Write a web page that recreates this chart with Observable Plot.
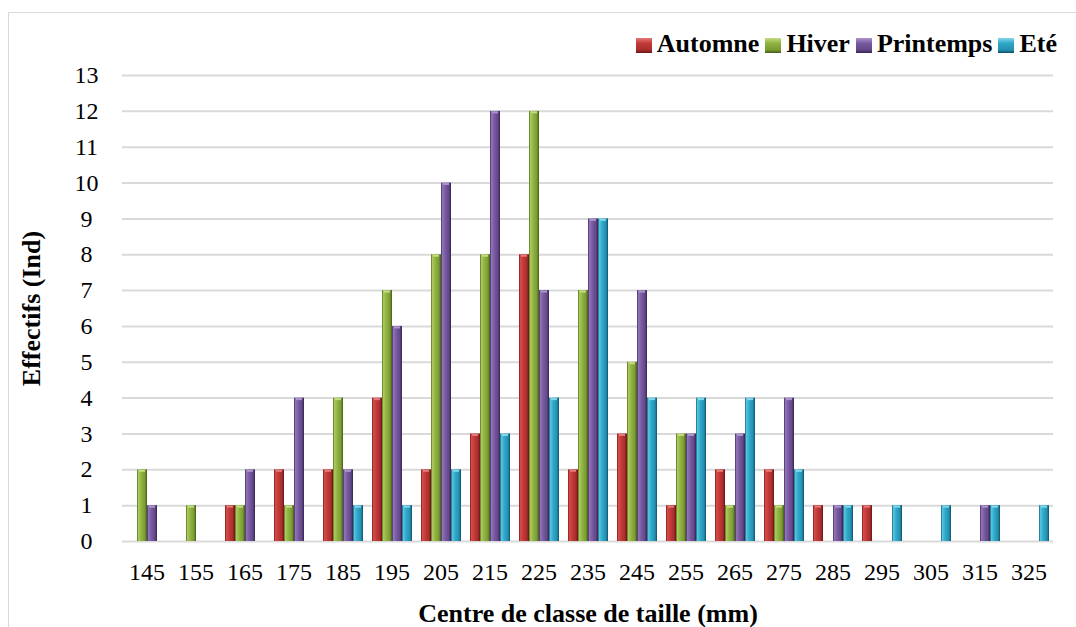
<!DOCTYPE html>
<html><head><meta charset="utf-8">
<script src="https://cdn.jsdelivr.net/npm/d3@7"></script>
<script src="https://cdn.jsdelivr.net/npm/@observablehq/plot@0.6"></script>
<style>
html,body{margin:0;padding:0;background:#fff;overflow:hidden;}
#wrap{position:relative;width:1076px;height:627px;font-family:"Times New Roman","Liberation Serif",Tinos,"DejaVu Serif",serif;overflow:hidden;}
#frame{position:absolute;left:8px;top:12px;width:1100px;height:700px;border:1px solid #d9d9d9;box-sizing:border-box;}
#chart{position:absolute;left:0;top:0;}
#legend{position:absolute;top:30px;right:19px;display:flex;align-items:center;font-weight:bold;font-size:26px;line-height:28px;color:#000;}
.item{display:flex;align-items:center;margin-left:6px;}
.sw{width:16px;height:15px;margin-right:5px;margin-top:3px;box-sizing:border-box;}
g[aria-label="y-axis label"], g[aria-label="fx-axis label"]{font-size:26px;font-weight:bold;}
</style></head>
<body><div id="wrap"><div id="frame"></div><div id="chart"></div><div id="legend"></div></div>
<script>
// ---- data ----
const categories = [145,155,165,175,185,195,205,215,225,235,245,255,265,275,285,295,305,315,325];
const seriesNames = ["Automne","Hiver","Printemps","Eté"];
const automne   = [0,0,1,2,2,4,2,3,8,2,3,1,2,2,1,1,0,0,0];
const hiver     = [2,1,1,1,4,7,8,8,12,7,5,3,1,1,0,0,0,0,0];
const printemps = [1,0,2,4,2,6,10,12,7,9,7,3,3,4,1,0,0,1,0];
const ete       = [0,0,0,0,1,1,2,3,4,9,4,4,4,2,1,1,1,1,1];
const yTicks = [0,1,2,3,4,5,6,7,8,9,10,11,12,13];
const xTitle = "Centre de classe de taille (mm)";
const yTitle = "Effectifs (Ind)";

// ---- styles ----
const FONT = '"Times New Roman","Liberation Serif",Tinos,"DejaVu Serif",serif';
const palette = {
  "Automne":   ["#7a1818","#d44c4a","#c23a38","#a62d2c","#6a1414"],
  "Hiver":     ["#4d681d","#aac95c","#90b241","#789a32","#42591a"],
  "Printemps": ["#3c2959","#9174b6","#7759a1","#624788","#35234d"],
  "Eté":       ["#135e78","#55c4de","#2fa7c8","#2390b0","#0f4f68"]
};
const topColor = {"Automne": "#e27a78", "Hiver": "#c4dc84", "Printemps": "#ae96cc", "Eté": "#86d6ea"};
const stops = [0, 0.14, 0.45, 0.8, 1];

const valuesBySeries = {"Automne": automne, "Hiver": hiver, "Printemps": printemps, "Eté": ete};
const rows = [];
categories.forEach((c, i) => seriesNames.forEach(s => rows.push({cat: c, series: s, value: valuesBySeries[s][i]})));
const gid = s => "grad" + seriesNames.indexOf(s);

const marks = [
  Plot.gridY(yTicks, {stroke: "#d9d9d9", strokeOpacity: 1, strokeWidth: 2}),
  ...seriesNames.map(s => Plot.barY(rows.filter(d => d.series === s && d.value > 0), {
    fx: "cat", x: "series", y: "value", fill: `url(#${gid(s)})`
  })),
  ...seriesNames.map(s => Plot.tickY(rows.filter(d => d.series === s && d.value > 0), {
    fx: "cat", x: "series", y: "value", stroke: topColor[s], strokeWidth: 2, dy: 1, insetLeft: 2, insetRight: 2
  })),
  Plot.axisY(yTicks, {tickSize: 0, tickPadding: 36, textAnchor: "middle", fontSize: 24,
    label: yTitle, labelAnchor: "center", labelOffset: 101, labelArrow: "none"}),
  Plot.axisFx({anchor: "bottom", tickSize: 0, tickPadding: 21, fontSize: 24,
    label: xTitle, labelAnchor: "center", labelOffset: 80, labelArrow: "none"})
];

const svg = Plot.plot({
  width: 1076, height: 627,
  marginLeft: 113, marginRight: 14, marginTop: 75, marginBottom: 86,
  style: {fontFamily: FONT, fontSize: "24px", color: "#000", background: "transparent", overflow: "visible"},
  fx: {domain: categories, paddingInner: 0, paddingOuter: 0, label: null},
  x: {domain: seriesNames, paddingInner: 0.05, paddingOuter: 0.4, axis: null},
  y: {domain: [0, 13], label: null},
  marks
});
svg.style.fontFamily = FONT;

// gradients
const defs = d3.select(svg).insert("defs", ":first-child");
seriesNames.forEach(s => {
  const g = defs.append("linearGradient").attr("id", gid(s)).attr("x1", 0).attr("x2", 1).attr("y1", 0).attr("y2", 0);
  palette[s].forEach((col, k) => g.append("stop").attr("offset", stops[k]).attr("stop-color", col));
});
document.getElementById("chart").appendChild(svg);

// legend
const legend = document.getElementById("legend");
seriesNames.forEach(s => {
  const item = document.createElement("div"); item.className = "item";
  const sw = document.createElement("div"); sw.className = "sw";
  sw.style.background = `linear-gradient(to bottom, ${topColor[s]} 0%, ${palette[s][2]} 35%, ${palette[s][3]} 80%, ${palette[s][4]} 100%)`;
  const t = document.createElement("span"); t.textContent = s;
  item.appendChild(sw); item.appendChild(t); legend.appendChild(item);
});
</script></body></html>
